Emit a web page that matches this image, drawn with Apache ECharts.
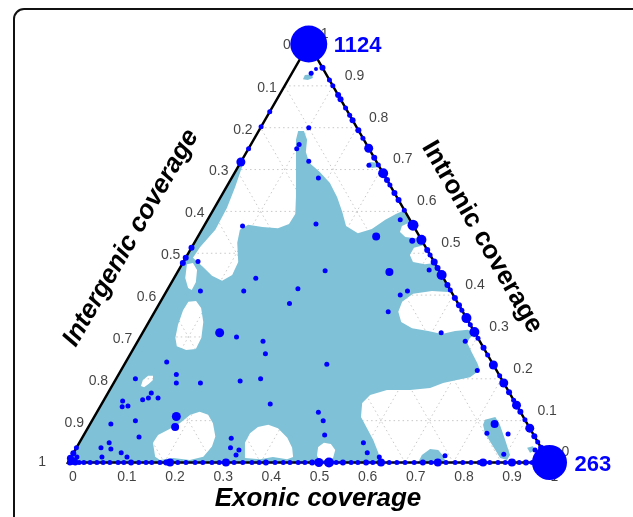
<!DOCTYPE html>
<html>
<head>
<meta charset="utf-8">
<script src="https://cdn.jsdelivr.net/npm/echarts@6/dist/echarts.min.js"></script>
<style>
html, body { margin: 0; padding: 0; background: #fff; }
#main { width: 633px; height: 517px; }
</style>
</head>
<body>
<div id="main"></div>
<script>
// 刻度
var tickValues = [0, 0.1, 0.2, 0.3, 0.4, 0.5, 0.6, 0.7, 0.8, 0.9, 1]
var tickLabels = ['0', '0.1', '0.2', '0.3', '0.4', '0.5', '0.6', '0.7', '0.8', '0.9', '1']

// 顶点上的计数 [exonic, intronic, count]
var vertexCounts = [[0, 1, 1124], [1, 0, 263]]

// 底边上的点 [exonic, size]  (intronic = 0)
var bottomDots = [[0.004, 6], [0.008, 5], [0.015, 6], [0.023, 5], [0.033, 5], [0.046, 5], [0.06, 5], [0.073, 5],
    [0.087, 5], [0.104, 5], [0.116, 5], [0.131, 6], [0.147, 5], [0.162, 5], [0.174, 5], [0.191, 5], [0.204, 6],
    [0.212, 8], [0.228, 5], [0.245, 5], [0.264, 5], [0.28, 5], [0.299, 5], [0.314, 5], [0.328, 8], [0.345, 5],
    [0.363, 5], [0.382, 5], [0.397, 5], [0.411, 6], [0.43, 5], [0.447, 5], [0.461, 5], [0.478, 5], [0.492, 5],
    [0.507, 6], [0.521, 9], [0.542, 10], [0.557, 5], [0.571, 6], [0.588, 5], [0.602, 5], [0.619, 6], [0.633, 5],
    [0.65, 8], [0.667, 5], [0.683, 5], [0.7, 5], [0.719, 5], [0.737, 6], [0.754, 5], [0.768, 8], [0.785, 5],
    [0.804, 5], [0.82, 5], [0.837, 5], [0.854, 5], [0.862, 8], [0.876, 5], [0.893, 5], [0.908, 5], [0.922, 8],
    [0.937, 5], [0.951, 6], [0.964, 5], [0.974, 6]]

// 右边上的点 [intronic, size]  (intergenic = 0)
var rightDots = [[0.016, 5], [0.025, 5], [0.035, 6], [0.049, 5], [0.063, 6], [0.082, 9], [0.102, 5], [0.121, 6],
    [0.137, 9], [0.149, 5], [0.168, 6], [0.19, 9], [0.207, 5], [0.233, 9], [0.257, 5], [0.274, 6], [0.297, 5],
    [0.312, 10], [0.329, 5], [0.345, 10], [0.364, 5], [0.376, 6], [0.393, 6], [0.412, 5], [0.424, 6], [0.448, 10],
    [0.465, 6], [0.479, 7], [0.496, 5], [0.508, 6], [0.532, 10], [0.567, 11], [0.603, 5], [0.627, 6], [0.644, 6],
    [0.663, 5], [0.675, 6], [0.691, 10], [0.711, 5], [0.728, 6], [0.751, 9], [0.775, 5], [0.794, 6], [0.818, 6],
    [0.83, 5], [0.847, 5], [0.868, 6], [0.878, 6], [0.9, 5], [0.914, 5], [0.943, 6]]

// 左边上的点 [intergenic, size]  (exonic = 0)
var leftDots = [[0.162, 5], [0.198, 5], [0.25, 5], [0.282, 9], [0.487, 6], [0.511, 6], [0.523, 6],
    [0.965, 5], [0.978, 6], [0.99, 7]]

// 内部的点 [exonic, intronic, size]
var innerDots = [[0.04, 0.93, 5], [0.045, 0.94, 4], [0.10, 0.80, 5], [0.10, 0.76, 5], [0.10, 0.75, 5], [0.14, 0.72, 5],
    [0.18, 0.68, 5], [0.23, 0.57, 5], [0.08, 0.565, 5], [0.37, 0.54, 8], [0.27, 0.71, 5], [0.40, 0.58, 5],
    [0.45, 0.53, 6], [0.44, 0.455, 8], [0.52, 0.46, 5], [0.50, 0.41, 5], [0.49, 0.40, 5], [0.485, 0.36, 5],
    [0.62, 0.31, 5], [0.68, 0.29, 5], [0.03, 0.48, 5], [0.305, 0.458, 5], [0.17, 0.44, 5], [0.07, 0.41, 5],
    [0.27, 0.415, 5], [0.16, 0.41, 5], [0.27, 0.38, 5], [0.16, 0.31, 9], [0.20, 0.30, 5], [0.26, 0.29, 5],
    [0.28, 0.26, 5], [0.42, 0.235, 5], [0.085, 0.24, 5], [0.04, 0.20, 5], [0.12, 0.21, 5], [0.13, 0.19, 5],
    [0.18, 0.19, 5], [0.26, 0.195, 5], [0.30, 0.20, 5], [0.74, 0.22, 5], [0.35, 0.14, 5], [0.46, 0.12, 5],
    [0.48, 0.10, 5], [0.50, 0.066, 5], [0.59, 0.047, 5], [0.61, 0.023, 5], [0.31, 0.058, 5], [0.32, 0.035, 5],
    [0.34, 0.03, 5], [0.34, 0.018, 5], [0.17, 0.11, 9], [0.18, 0.085, 8], [0.84, 0.092, 8], [0.88, 0.068, 5],
    [0.835, 0.07, 5], [0.895, 0.02, 5], [0.775, 0.016, 5], [0.955, 0.03, 5], [0.09, 0.166, 5], [0.08, 0.15, 5],
    [0.09, 0.154, 5], [0.11, 0.154, 5], [0.04, 0.147, 5], [0.046, 0.133, 5], [0.057, 0.135, 5], [0.09, 0.10, 5],
    [0.043, 0.092, 5], [0.117, 0.061, 5], [0.062, 0.047, 5], [0.051, 0.035, 5], [0.073, 0.032, 5], [0.099, 0.023, 5],
    [0.064, 0.013, 5], [0.116, 0.013, 5], [0.012, 0.013, 5], [0.64, 0.013, 5], [0.005, 0.006, 6], [0.012, 0.006, 5]]

// 密度区域轮廓 [exonic, intronic]
var densityMain = [[0, 0], [0, 0.723], [0.007, 0.713], [0.018, 0.658], [0.026, 0.608], [0.028, 0.556], [0.017, 0.515],
    [0.015, 0.489], [0.047, 0.467], [0.076, 0.446], [0.103, 0.434], [0.117, 0.448], [0.114, 0.479], [0.089, 0.525],
    [0.079, 0.556], [0.090, 0.568], [0.122, 0.563], [0.156, 0.560], [0.174, 0.570], [0.175, 0.594], [0.155, 0.637],
    [0.118, 0.711], [0.088, 0.771], [0.082, 0.792], [0.094, 0.792], [0.111, 0.771], [0.123, 0.742], [0.143, 0.716],
    [0.176, 0.694], [0.210, 0.668], [0.242, 0.634], [0.270, 0.599], [0.295, 0.565], [0.328, 0.548], [0.352, 0.558],
    [0.369, 0.580], [0.384, 0.594], [0.397, 0.603], [0.425, 0.575], [0.411, 0.565], [0.414, 0.551], [0.431, 0.539],
    [0.453, 0.536], [0.461, 0.539], [0.480, 0.520], [0.462, 0.513], [0.462, 0.496], [0.477, 0.479], [0.504, 0.474],
    [0.523, 0.477], [0.593, 0.407], [0.551, 0.410], [0.515, 0.403], [0.502, 0.384], [0.506, 0.360], [0.524, 0.336],
    [0.554, 0.321], [0.591, 0.314], [0.623, 0.307], [0.647, 0.314], [0.672, 0.317], [0.693, 0.307], [0.686, 0.298],
    [0.686, 0.286], [0.708, 0.262], [0.731, 0.238], [0.745, 0.221], [0.733, 0.204], [0.709, 0.197], [0.684, 0.190],
    [0.663, 0.178], [0.624, 0.173], [0.576, 0.173], [0.547, 0.161], [0.540, 0.142], [0.554, 0.109], [0.580, 0.082],
    [0.607, 0.054], [0.633, 0.023], [0.648, 0]]
var holeA = [[0.174, 0.014], [0.153, 0.047], [0.154, 0.066], [0.169, 0.078], [0.185, 0.094], [0.197, 0.114],
    [0.213, 0.121], [0.234, 0.114], [0.254, 0.094], [0.275, 0.062], [0.280, 0.038], [0.274, 0.014], [0.250, 0.006],
    [0.213, 0.011], [0.188, 0.006]]
var holeB = [[0.362, 0.011], [0.344, 0.047], [0.343, 0.070], [0.352, 0.085], [0.371, 0.090], [0.395, 0.082],
    [0.426, 0.059], [0.448, 0.035], [0.461, 0.013], [0.451, 0.008], [0.419, 0.013], [0.395, 0.008]]
var holeC = [[0.509, 0.016], [0.501, 0.037], [0.508, 0.047], [0.524, 0.044], [0.540, 0.030], [0.545, 0.011],
    [0.533, 0.006], [0.520, 0.006]]
var holeD = [[0.060, 0.183], [0.057, 0.197], [0.063, 0.207], [0.073, 0.207], [0.078, 0.197], [0.074, 0.188], [0.068, 0.180]]
var holeE = [[0.058, 0.384], [0.073, 0.386], [0.092, 0.369], [0.113, 0.336], [0.128, 0.298], [0.130, 0.271],
    [0.111, 0.269], [0.087, 0.278], [0.074, 0.298], [0.064, 0.329], [0.057, 0.364]]
var holeF = [[0.010, 0.474], [0.021, 0.477], [0.038, 0.460], [0.050, 0.431], [0.051, 0.412], [0.041, 0.417], [0.023, 0.441]]
var islandA = [[0.815, 0.102], [0.833, 0.109], [0.852, 0.090], [0.881, 0.054], [0.909, 0.018], [0.909, 0.006],
    [0.892, 0.011], [0.860, 0.042], [0.831, 0.070], [0.817, 0.090]]
var islandB = [[0.936, 0.035], [0.946, 0.039], [0.957, 0.030], [0.948, 0.023]]
var islandC = [[0.727, 0], [0.726, 0.018], [0.736, 0.032], [0.754, 0.030], [0.771, 0.016], [0.785, 0]]
var islandD = [[0.030, 0.916], [0.029, 0.926], [0.043, 0.928], [0.049, 0.919], [0.041, 0.914]]
var islandE = [[0.265, 0.709], [0.268, 0.718], [0.284, 0.716], [0.291, 0.706], [0.280, 0.704]]

var FILL = '#7fc1d6'
var BLUE = '#0000ff'
var FONT = '"Liberation Sans", Arial, sans-serif'

// 三元坐标 -> 直角坐标
function tern(e, i) {
    return [e + i / 2, i]
}

var holes = [holeA, holeB, holeC, holeD, holeE, holeF]
var islands = [islandA, islandB, islandC, islandD, islandE]

// 网格线
var gridLines = []
for (var k = 1; k < tickValues.length - 1; k++) {
    var v = tickValues[k]
    gridLines.push([tern(0, v), tern(1 - v, v)])
    gridLines.push([tern(v, 0), tern(v, 1 - v)])
    gridLines.push([tern(1 - v, 0), tern(0, 1 - v)])
}

var dots = []
bottomDots.forEach(function (d) { dots.push(tern(d[0], 0).concat(d[1])) })
rightDots.forEach(function (d) { dots.push(tern(1 - d[0], d[0]).concat(d[1])) })
leftDots.forEach(function (d) { dots.push(tern(0, 1 - d[0]).concat(d[1])) })
innerDots.forEach(function (d) { dots.push(tern(d[0], d[1]).concat(d[2])) })

var bottomTicks = [], leftTicks = [], rightTicks = []
for (var t = 0; t < tickValues.length; t++) {
    var tv = tickValues[t]
    bottomTicks.push({ value: tern(tv, 0), name: tickLabels[t] })
    var lpos = [-8, 2]
    if (tv === 0) lpos = [-18, 1]
    if (tv === 1) lpos = [-22, 0]
    leftTicks.push({ value: tern(0, 1 - tv), name: tickLabels[t], label: { position: lpos } })
    rightTicks.push({ value: tern(1 - tv, tv), name: tickLabels[t] })
}

function tickSeries(data, pos, align) {
    return {
        type: 'scatter',
        data: data,
        symbolSize: 0,
        silent: true,
        clip: false,
        z: 4,
        label: {
            show: true,
            formatter: '{b}',
            position: pos,
            align: align,
            verticalAlign: 'middle',
            color: '#111',
            fontSize: 14,
            fontFamily: FONT
        }
    }
}

// 轮廓转成 path，洞反向绕行
function ringPath(pts, api, reverse) {
    var arr = pts.map(function (p) { return api.coord(tern(p[0], p[1])) })
    if (reverse) arr.reverse()
    var s = ''
    arr.forEach(function (c, n) {
        s += (n === 0 ? 'M' : 'L') + c[0].toFixed(2) + ' ' + c[1].toFixed(2) + ' '
    })
    return s + 'Z '
}

function titleText(text, x, y, rot, italic) {
    return {
        type: 'text', x: x, y: y, z: 100, rotation: rot, silent: true,
        style: {
            text: text, font: (italic ? 'italic ' : '') + 'bold 26px ' + FONT, fill: '#000',
            align: 'center', verticalAlign: 'middle', textAlign: 'center', textVerticalAlign: 'middle'
        }
    }
}

var myChart = echarts.init(document.getElementById('main'));
myChart.setOption({
    animation: false,
    grid: { left: 68, top: 44, width: 481.5, height: 418.5 },
    xAxis: { type: 'value', min: 0, max: 1, show: false },
    yAxis: { type: 'value', min: 0, max: 1, show: false },
    graphic: [
        {
            type: 'rect', z: 100, silent: true,
            shape: { x: 14, y: 9, width: 680, height: 580, r: 10 },
            style: { fill: 'none', stroke: '#111', lineWidth: 2 }
        },
        titleText('Exonic coverage', 318, 499, 0, true),
        titleText('Intergenic coverage', 131, 238, Math.PI / 3, true),
        titleText('Intronic coverage', 482, 237, -Math.PI / 3, false)
    ],
    series: [
        {
            // 网格线
            type: 'custom',
            silent: true,
            z: 1,
            data: [[0, 0]],
            renderItem: function (params, api) {
                return {
                    type: 'group',
                    children: gridLines.map(function (l) {
                        var a = api.coord(l[0]), b = api.coord(l[1])
                        return {
                            type: 'line',
                            shape: { x1: a[0], y1: a[1], x2: b[0], y2: b[1] },
                            style: { stroke: '#c8c8c8', lineWidth: 1, lineDash: [1.5, 3] }
                        }
                    })
                }
            }
        },
        {
            // 密度区域
            type: 'custom',
            silent: true,
            z: 2,
            data: [[0, 0]],
            renderItem: function (params, api) {
                var d = ringPath(densityMain, api, false)
                holes.forEach(function (h) { d += ringPath(h, api, true) })
                var children = [{ type: 'path', shape: { pathData: d }, style: { fill: FILL, stroke: null } }]
                islands.forEach(function (s) {
                    children.push({ type: 'path', shape: { pathData: ringPath(s, api, false) }, style: { fill: FILL, stroke: null } })
                })
                return { type: 'group', children: children }
            }
        },
        {
            // 三角形边框
            type: 'custom',
            silent: true,
            z: 3,
            data: [[0, 0]],
            renderItem: function (params, api) {
                return {
                    type: 'polygon',
                    shape: { points: [api.coord(tern(0, 0)), api.coord(tern(1, 0)), api.coord(tern(0, 1))] },
                    style: { fill: 'none', stroke: '#000', lineWidth: 2.5 }
                }
            }
        },
        tickSeries(bottomTicks, [1, 15], 'left'),
        tickSeries(leftTicks, [-8, 2], 'right'),
        tickSeries(rightTicks, [12, -10], 'left'),
        {
            type: 'scatter',
            data: dots,
            clip: false,
            silent: true,
            z: 5,
            symbolSize: function (val) { return val[2] },
            itemStyle: { color: BLUE, opacity: 1 }
        },
        {
            type: 'scatter',
            data: vertexCounts.map(function (c) {
                var size = c[2] > 500 ? 37 : 35
                return { value: tern(c[0], c[1]).concat(c[2], size), label: { position: [size / 2 + 25, size / 2 + 2] } }
            }),
            clip: false,
            silent: true,
            z: 6,
            symbolSize: function (val) { return val[3] },
            itemStyle: { color: BLUE, opacity: 1 },
            label: {
                show: true,
                formatter: function (p) { return p.value[2] },
                align: 'left',
                verticalAlign: 'middle',
                color: BLUE,
                fontSize: 22,
                fontWeight: 'bold',
                fontFamily: FONT
            }
        }
    ]
});
</script>
</body>
</html>
